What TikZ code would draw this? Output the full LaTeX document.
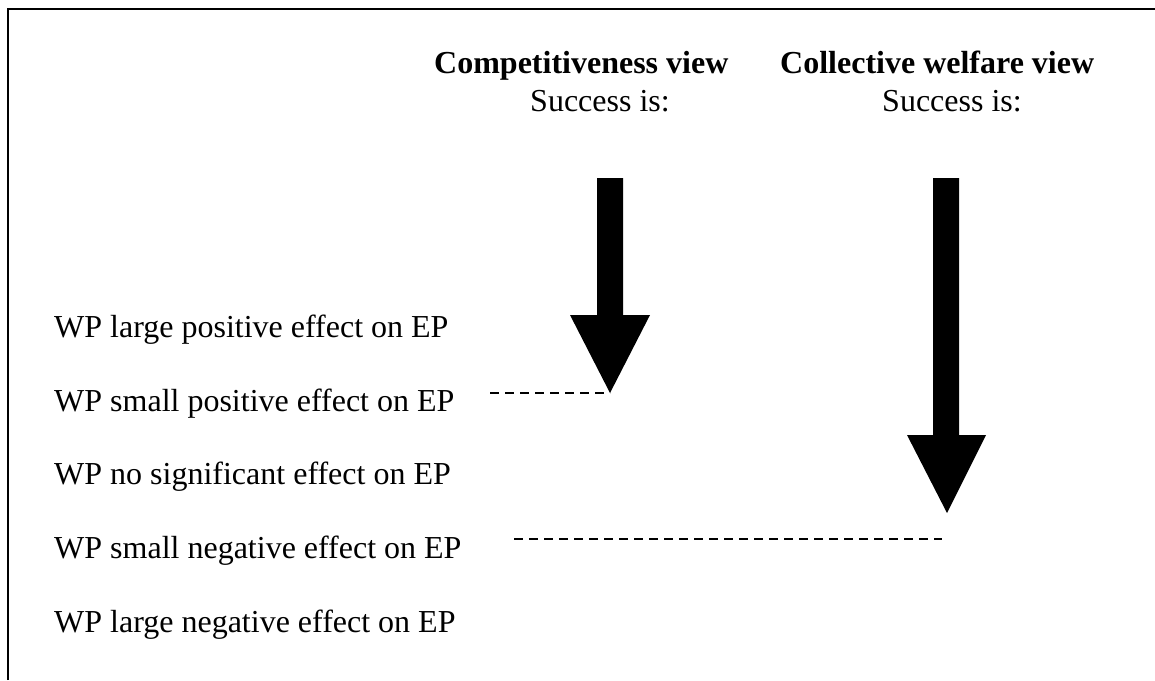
\documentclass[tikz,border=0pt]{standalone}
\usepackage{fontspec}
\setmainfont{Liberation Serif}
\begin{document}
\begin{tikzpicture}[x=1pt,y=-1pt,
  lbl/.style={anchor=base west,inner sep=0pt,font=\fontsize{32}{38}\selectfont},
  head/.style={lbl,font=\fontsize{32}{38}\selectfont\bfseries},
  bigarrow/.style={fill=black,draw=none},
  guide/.style={line width=1.6pt,dash pattern=on 9pt off 6pt}]
\useasboundingbox (0,0) rectangle (1155,680);
% frame
\draw[line width=2pt] (8,680) -- (8,9) -- (1155,9);
% column headings
\node[head] (hcomp) at (434,73) {Competitiveness view};
\node[head] (hcoll) at (780,73) {Collective welfare view};
\node[lbl] (scomp) at (530,111) {Success is:};
\node[lbl] (scoll) at (882,111) {Success is:};
% scale of effects
\node[lbl] (l1) at (54,337) {WP large positive effect on EP};
\node[lbl] (l2) at (54,411) {WP small positive effect on EP};
\node[lbl] (l3) at (54,484) {WP no significant effect on EP};
\node[lbl] (l4) at (54,558) {WP small negative effect on EP};
\node[lbl] (l5) at (54,632) {WP large negative effect on EP};
% block arrows
\coordinate (tipA) at (610,393);
\coordinate (tipB) at (947,513);
\fill[bigarrow] (597,178) -- (623,178) -- (623,315) -- (650,315) -- (tipA)
  -- (570,315) -- (597,315) -- cycle;
\fill[bigarrow] (933,178) -- (959,178) -- (959,435) -- (986,435) -- (tipB)
  -- (907,435) -- (933,435) -- cycle;
% dashed markers
\coordinate (dA) at (490,393);
\coordinate (dB) at (514,539);
\draw[guide] (dA) -- (tipA);
\draw[guide] (dB) -- (942,539);
\end{tikzpicture}
\end{document}
